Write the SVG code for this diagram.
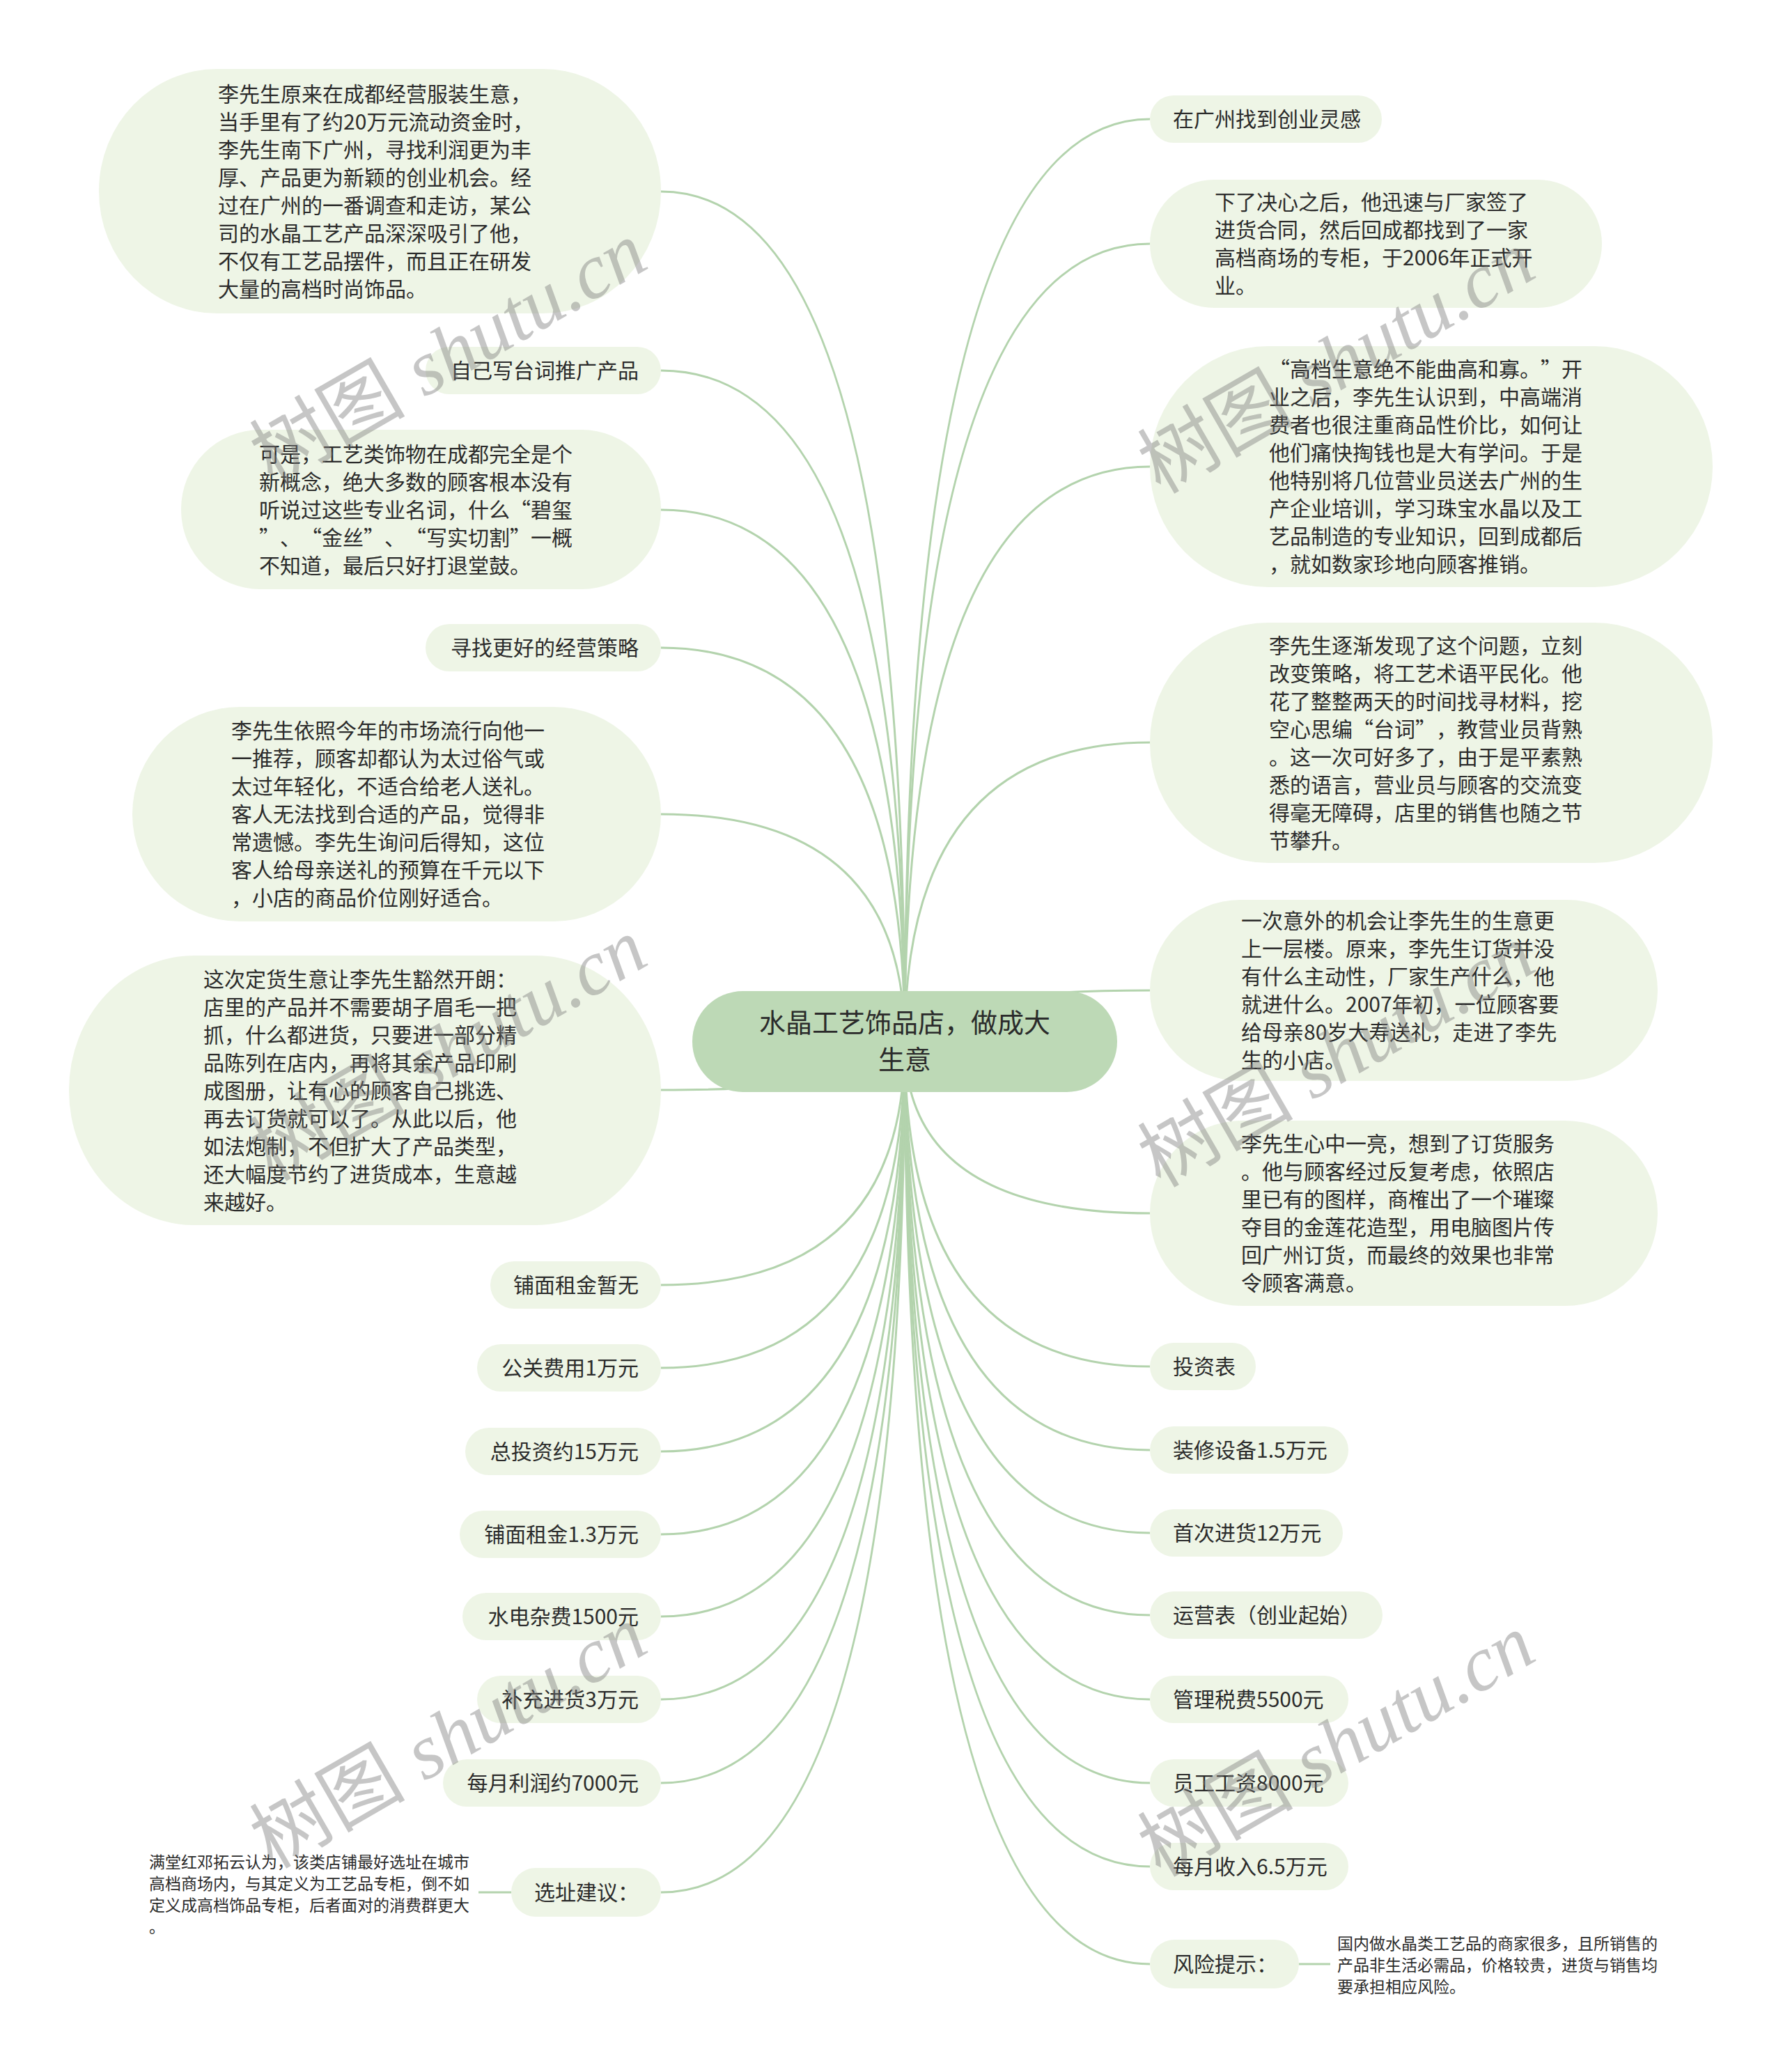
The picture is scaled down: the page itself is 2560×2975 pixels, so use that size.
<svg xmlns="http://www.w3.org/2000/svg" width="2560" height="2975" viewBox="0 0 2560 2975">
<style>
.n{fill:#eef5e6;}
.root{fill:#bdd9b6;}
.t{font-family:"Noto Sans CJK SC","Liberation Sans",sans-serif;font-size:30px;fill:#2b2b2b;text-spacing-trim:space-all;}
.ts{font-family:"Noto Sans CJK SC","Liberation Sans",sans-serif;font-size:23px;fill:#2b2b2b;text-spacing-trim:space-all;}
.tr{font-family:"Noto Sans CJK SC","Liberation Sans",sans-serif;font-size:38px;fill:#2b2b2b;}
.c{fill:none;stroke:#b3d3ad;stroke-width:3;}
.wm{font-family:"Liberation Serif","Noto Sans CJK SC",serif;font-size:112px;fill:#7a7a7a;opacity:0.42;}
</style>
<rect width="2560" height="2975" fill="#ffffff"/>
<g id="connectors">
<path class="c" d="M1299,1496 Q1299,275 949,275"/>
<path class="c" d="M1299,1496 Q1299,532 949,532"/>
<path class="c" d="M1299,1496 Q1299,732 949,732"/>
<path class="c" d="M1299,1496 Q1299,930 949,930"/>
<path class="c" d="M1299,1496 Q1299,1169 949,1169"/>
<path class="c" d="M1299,1496 Q1299,1565 949,1565"/>
<path class="c" d="M1299,1496 Q1299,1845 949,1845"/>
<path class="c" d="M1299,1496 Q1299,1964 949,1964"/>
<path class="c" d="M1299,1496 Q1299,2084 949,2084"/>
<path class="c" d="M1299,1496 Q1299,2203 949,2203"/>
<path class="c" d="M1299,1496 Q1299,2321 949,2321"/>
<path class="c" d="M1299,1496 Q1299,2440 949,2440"/>
<path class="c" d="M1299,1496 Q1299,2560 949,2560"/>
<path class="c" d="M1299,1496 Q1299,2717 949,2717"/>
<path class="c" d="M734,2717 L687,2717"/>
<path class="c" d="M1299,1496 Q1299,171 1651,171"/>
<path class="c" d="M1299,1496 Q1299,350 1651,350"/>
<path class="c" d="M1299,1496 Q1299,670 1651,670"/>
<path class="c" d="M1299,1496 Q1299,1066 1651,1066"/>
<path class="c" d="M1299,1496 Q1299,1422 1651,1422"/>
<path class="c" d="M1299,1496 Q1299,1742 1651,1742"/>
<path class="c" d="M1299,1496 Q1299,1962 1651,1962"/>
<path class="c" d="M1299,1496 Q1299,2082 1651,2082"/>
<path class="c" d="M1299,1496 Q1299,2201 1651,2201"/>
<path class="c" d="M1299,1496 Q1299,2319 1651,2319"/>
<path class="c" d="M1299,1496 Q1299,2440 1651,2440"/>
<path class="c" d="M1299,1496 Q1299,2560 1651,2560"/>
<path class="c" d="M1299,1496 Q1299,2680 1651,2680"/>
<path class="c" d="M1299,1496 Q1299,2820 1651,2820"/>
<path class="c" d="M1865,2820 L1910,2820"/>
</g>
<g id="root">
<rect class="root" x="994" y="1423" width="610" height="145" rx="72.5"/>
<text class="tr" x="1299" y="1482" text-anchor="middle">水晶工艺饰品店，做成大</text>
<text class="tr" x="1299" y="1535" text-anchor="middle">生意</text>
</g>
<g id="L1">
<rect class="n" x="142" y="99" width="807" height="351" rx="170" ry="175"/>
<text class="t"><tspan x="313" y="146">李先生原来在成都经营服装生意，</tspan><tspan x="313" dy="40">当手里有了约20万元流动资金时，</tspan><tspan x="313" dy="40">李先生南下广州，寻找利润更为丰</tspan><tspan x="313" dy="40">厚、产品更为新颖的创业机会。经</tspan><tspan x="313" dy="40">过在广州的一番调查和走访，某公</tspan><tspan x="313" dy="40">司的水晶工艺产品深深吸引了他，</tspan><tspan x="313" dy="40">不仅有工艺品摆件，而且正在研发</tspan><tspan x="313" dy="40">大量的高档时尚饰品。</tspan></text>
</g>
<g id="L2">
<rect class="n" x="611" y="498" width="338" height="68" rx="34"/>
<text class="t" x="917" y="543" text-anchor="end">自己写台词推广产品</text>
</g>
<g id="L3">
<rect class="n" x="260" y="617" width="689" height="229" rx="114"/>
<text class="t"><tspan x="372" y="663">可是，工艺类饰物在成都完全是个</tspan><tspan x="372" dy="40">新概念，绝大多数的顾客根本没有</tspan><tspan x="372 402 432 462 492 522 552 582 612 642 672 702 732 762 792" dy="40">听说过这些专业名词，什么“碧玺</tspan><tspan x="372 402 432 462 492 522 552 582 612 642 672 702 732 762 792" dy="40">”、“金丝”、“写实切割”一概</tspan><tspan x="372" dy="40">不知道，最后只好打退堂鼓。</tspan></text>
</g>
<g id="L4">
<rect class="n" x="611" y="896" width="338" height="68" rx="34"/>
<text class="t" x="917" y="941" text-anchor="end">寻找更好的经营策略</text>
</g>
<g id="L5">
<rect class="n" x="190" y="1015" width="759" height="308" rx="154"/>
<text class="t"><tspan x="332" y="1060">李先生依照今年的市场流行向他一</tspan><tspan x="332" dy="40">一推荐，顾客却都认为太过俗气或</tspan><tspan x="332" dy="40">太过年轻化，不适合给老人送礼。</tspan><tspan x="332" dy="40">客人无法找到合适的产品，觉得非</tspan><tspan x="332" dy="40">常遗憾。李先生询问后得知，这位</tspan><tspan x="332" dy="40">客人给母亲送礼的预算在千元以下</tspan><tspan x="332" dy="40">，小店的商品价位刚好适合。</tspan></text>
</g>
<g id="L6">
<rect class="n" x="99" y="1372" width="850" height="387" rx="180" ry="193"/>
<text class="t"><tspan x="292" y="1417">这次定货生意让李先生豁然开朗：</tspan><tspan x="292" dy="40">店里的产品并不需要胡子眉毛一把</tspan><tspan x="292" dy="40">抓，什么都进货，只要进一部分精</tspan><tspan x="292" dy="40">品陈列在店内，再将其余产品印刷</tspan><tspan x="292" dy="40">成图册，让有心的顾客自己挑选、</tspan><tspan x="292" dy="40">再去订货就可以了。从此以后，他</tspan><tspan x="292" dy="40">如法炮制，不但扩大了产品类型，</tspan><tspan x="292" dy="40">还大幅度节约了进货成本，生意越</tspan><tspan x="292" dy="40">来越好。</tspan></text>
</g>
<g id="L7">
<rect class="n" x="704" y="1811" width="245" height="68" rx="34"/>
<text class="t" x="917" y="1856" text-anchor="end">铺面租金暂无</text>
</g>
<g id="L8">
<rect class="n" x="685" y="1930" width="264" height="68" rx="34"/>
<text class="t" x="917" y="1975" text-anchor="end">公关费用1万元</text>
</g>
<g id="L9">
<rect class="n" x="668" y="2050" width="281" height="68" rx="34"/>
<text class="t" x="917" y="2095" text-anchor="end">总投资约15万元</text>
</g>
<g id="L10">
<rect class="n" x="660" y="2169" width="289" height="68" rx="34"/>
<text class="t" x="917" y="2214" text-anchor="end">铺面租金1.3万元</text>
</g>
<g id="L11">
<rect class="n" x="664" y="2287" width="285" height="68" rx="34"/>
<text class="t" x="917" y="2332" text-anchor="end">水电杂费1500元</text>
</g>
<g id="L12">
<rect class="n" x="685" y="2406" width="264" height="68" rx="34"/>
<text class="t" x="917" y="2451" text-anchor="end">补充进货3万元</text>
</g>
<g id="L13">
<rect class="n" x="636" y="2526" width="313" height="68" rx="34"/>
<text class="t" x="917" y="2571" text-anchor="end">每月利润约7000元</text>
</g>
<g id="L14">
<rect class="n" x="734" y="2682" width="215" height="70" rx="35"/>
<text class="t" x="917" y="2728" text-anchor="end">选址建议：</text>
</g>
<g id="L14a">
<text class="ts"><tspan x="214" y="2682">满堂红邓拓云认为，该类店铺最好选址在城市</tspan><tspan x="214" dy="31">高档商场内，与其定义为工艺品专柜，倒不如</tspan><tspan x="214" dy="31">定义成高档饰品专柜，后者面对的消费群更大</tspan><tspan x="214" dy="31">。</tspan></text>
</g>
<g id="R1">
<rect class="n" x="1651" y="137" width="333" height="68" rx="34"/>
<text class="t" x="1684" y="182">在广州找到创业灵感</text>
</g>
<g id="R2">
<rect class="n" x="1651" y="258" width="649" height="184" rx="92"/>
<text class="t"><tspan x="1744" y="301">下了决心之后，他迅速与厂家签了</tspan><tspan x="1744" dy="40">进货合同，然后回成都找到了一家</tspan><tspan x="1744" dy="40">高档商场的专柜，于2006年正式开</tspan><tspan x="1744" dy="40">业。</tspan></text>
</g>
<g id="R3">
<rect class="n" x="1651" y="497" width="808" height="346" rx="170" ry="173"/>
<text class="t"><tspan x="1822 1852 1882 1912 1942 1972 2002 2032 2062 2092 2122 2152 2182 2212 2242" y="541">“高档生意绝不能曲高和寡。”开</tspan><tspan x="1822" dy="40">业之后，李先生认识到，中高端消</tspan><tspan x="1822" dy="40">费者也很注重商品性价比，如何让</tspan><tspan x="1822" dy="40">他们痛快掏钱也是大有学问。于是</tspan><tspan x="1822" dy="40">他特别将几位营业员送去广州的生</tspan><tspan x="1822" dy="40">产企业培训，学习珠宝水晶以及工</tspan><tspan x="1822" dy="40">艺品制造的专业知识，回到成都后</tspan><tspan x="1822" dy="40">，就如数家珍地向顾客推销。</tspan></text>
</g>
<g id="R4">
<rect class="n" x="1651" y="894" width="808" height="345" rx="170" ry="172"/>
<text class="t"><tspan x="1822" y="938">李先生逐渐发现了这个问题，立刻</tspan><tspan x="1822" dy="40">改变策略，将工艺术语平民化。他</tspan><tspan x="1822" dy="40">花了整整两天的时间找寻材料，挖</tspan><tspan x="1822 1852 1882 1912 1942 1972 2002 2032 2062 2092 2122 2152 2182 2212 2242" dy="40">空心思编“台词”，教营业员背熟</tspan><tspan x="1822" dy="40">。这一次可好多了，由于是平素熟</tspan><tspan x="1822" dy="40">悉的语言，营业员与顾客的交流变</tspan><tspan x="1822" dy="40">得毫无障碍，店里的销售也随之节</tspan><tspan x="1822" dy="40">节攀升。</tspan></text>
</g>
<g id="R5">
<rect class="n" x="1651" y="1292" width="729" height="260" rx="130"/>
<text class="t"><tspan x="1782" y="1333">一次意外的机会让李先生的生意更</tspan><tspan x="1782" dy="40">上一层楼。原来，李先生订货并没</tspan><tspan x="1782" dy="40">有什么主动性，厂家生产什么，他</tspan><tspan x="1782" dy="40">就进什么。2007年初，一位顾客要</tspan><tspan x="1782" dy="40">给母亲80岁大寿送礼，走进了李先</tspan><tspan x="1782" dy="40">生的小店。</tspan></text>
</g>
<g id="R6">
<rect class="n" x="1651" y="1609" width="729" height="266" rx="133"/>
<text class="t"><tspan x="1782" y="1653">李先生心中一亮，想到了订货服务</tspan><tspan x="1782" dy="40">。他与顾客经过反复考虑，依照店</tspan><tspan x="1782" dy="40">里已有的图样，商榷出了一个璀璨</tspan><tspan x="1782" dy="40">夺目的金莲花造型，用电脑图片传</tspan><tspan x="1782" dy="40">回广州订货，而最终的效果也非常</tspan><tspan x="1782" dy="40">令顾客满意。</tspan></text>
</g>
<g id="R7">
<rect class="n" x="1651" y="1928" width="152" height="68" rx="34"/>
<text class="t" x="1684" y="1973">投资表</text>
</g>
<g id="R8">
<rect class="n" x="1651" y="2048" width="285" height="68" rx="34"/>
<text class="t" x="1684" y="2093">装修设备1.5万元</text>
</g>
<g id="R9">
<rect class="n" x="1651" y="2167" width="277" height="68" rx="34"/>
<text class="t" x="1684" y="2212">首次进货12万元</text>
</g>
<g id="R10">
<rect class="n" x="1651" y="2285" width="334" height="68" rx="34"/>
<text class="t" x="1684" y="2330">运营表（创业起始）</text>
</g>
<g id="R11">
<rect class="n" x="1651" y="2406" width="285" height="68" rx="34"/>
<text class="t" x="1684" y="2451">管理税费5500元</text>
</g>
<g id="R12">
<rect class="n" x="1651" y="2526" width="285" height="68" rx="34"/>
<text class="t" x="1684" y="2571">员工工资8000元</text>
</g>
<g id="R13">
<rect class="n" x="1651" y="2646" width="285" height="68" rx="34"/>
<text class="t" x="1684" y="2691">每月收入6.5万元</text>
</g>
<g id="R14">
<rect class="n" x="1651" y="2785" width="214" height="70" rx="35"/>
<text class="t" x="1684" y="2831">风险提示：</text>
</g>
<g id="R14a">
<text class="ts"><tspan x="1920" y="2799">国内做水晶类工艺品的商家很多，且所销售的</tspan><tspan x="1920" dy="31">产品非生活必需品，价格较贵，进货与销售均</tspan><tspan x="1920" dy="31">要承担相应风险。</tspan></text>
</g>
<g id="watermarks">
<text class="wm" x="645" y="545" text-anchor="middle" transform="rotate(-30 645 509)">树图 <tspan font-style="italic">shutu.cn</tspan></text>
<text class="wm" x="1920" y="558" text-anchor="middle" transform="rotate(-30 1920 522)">树图 <tspan font-style="italic">shutu.cn</tspan></text>
<text class="wm" x="645" y="1545" text-anchor="middle" transform="rotate(-30 645 1509)">树图 <tspan font-style="italic">shutu.cn</tspan></text>
<text class="wm" x="1920" y="1554" text-anchor="middle" transform="rotate(-30 1920 1518)">树图 <tspan font-style="italic">shutu.cn</tspan></text>
<text class="wm" x="645" y="2532" text-anchor="middle" transform="rotate(-30 645 2496)">树图 <tspan font-style="italic">shutu.cn</tspan></text>
<text class="wm" x="1920" y="2544" text-anchor="middle" transform="rotate(-30 1920 2508)">树图 <tspan font-style="italic">shutu.cn</tspan></text>
</g>
</svg>
